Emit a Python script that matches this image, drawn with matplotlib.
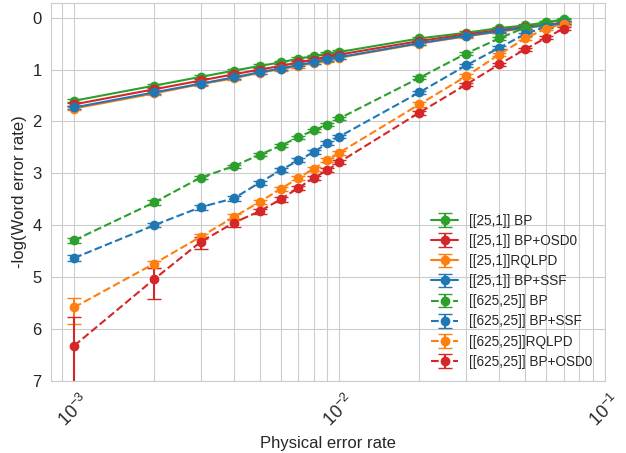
import matplotlib
matplotlib.use("Agg")
import matplotlib.pyplot as plt
import seaborn as sns
import numpy as np

sns.set_style("whitegrid")
plt.rcParams['font.family'] = ['Liberation Sans', 'DejaVu Sans']

p = [0.001, 0.002, 0.003, 0.004, 0.005, 0.006, 0.007, 0.008, 0.009, 0.01,
     0.02, 0.03, 0.04, 0.05, 0.06, 0.07]

bp25 = [1.60, 1.31, 1.14, 1.02, 0.93, 0.86, 0.79, 0.74, 0.69, 0.66, 0.40, 0.29, 0.20, 0.15, 0.09, 0.03]
osd25 = [1.67, 1.38, 1.21, 1.09, 1.00, 0.93, 0.86, 0.81, 0.75, 0.71, 0.45, 0.32, 0.24, 0.18, 0.13, 0.10]
rq25 = [1.75, 1.46, 1.28, 1.17, 1.06, 0.99, 0.93, 0.87, 0.82, 0.77, 0.50, 0.36, 0.27, 0.20, 0.15, 0.12]
ssf25 = [1.73, 1.44, 1.27, 1.15, 1.05, 0.98, 0.91, 0.86, 0.80, 0.76, 0.49, 0.35, 0.26, 0.19, 0.14, 0.11]

bp625 = [4.29, 3.56, 3.08, 2.86, 2.64, 2.47, 2.30, 2.17, 2.06, 1.94, 1.16, 0.69, 0.40, 0.19, 0.10, 0.05]
ssf625 = [4.63, 4.00, 3.65, 3.48, 3.18, 2.94, 2.75, 2.59, 2.42, 2.29, 1.44, 0.92, 0.58, 0.32, 0.17, 0.10]
rq625 = [5.58, 4.74, 4.22, 3.84, 3.55, 3.30, 3.09, 2.91, 2.75, 2.60, 1.67, 1.13, 0.71, 0.40, 0.21, 0.12]
osd625 = [6.32, 5.04, 4.32, 3.95, 3.73, 3.50, 3.28, 3.09, 2.94, 2.78, 1.83, 1.29, 0.90, 0.61, 0.39, 0.21]

err_small = [0.03] * 16
bp625_err_lo = [0.05, 0.04, 0.03, 0.03, 0.03, 0.03, 0.03, 0.03, 0.03, 0.03, 0.03, 0.03, 0.03, 0.03, 0.03, 0.03]
bp625_err_hi = [0.05, 0.04, 0.03, 0.03, 0.03, 0.03, 0.03, 0.03, 0.03, 0.03, 0.03, 0.03, 0.03, 0.03, 0.03, 0.03]
ssf625_err_lo = [0.05, 0.04, 0.05, 0.05, 0.04, 0.04, 0.04, 0.04, 0.04, 0.03, 0.03, 0.03, 0.03, 0.03, 0.03, 0.03]
ssf625_err_hi = [0.05, 0.04, 0.05, 0.05, 0.04, 0.04, 0.04, 0.04, 0.04, 0.03, 0.03, 0.03, 0.03, 0.03, 0.03, 0.03]
rq625_err_lo = [0.18, 0.06, 0.05, 0.05, 0.04, 0.04, 0.04, 0.04, 0.04, 0.04, 0.05, 0.04, 0.03, 0.03, 0.03, 0.03]
rq625_err_hi = [0.33, 0.08, 0.05, 0.05, 0.04, 0.04, 0.04, 0.04, 0.04, 0.04, 0.05, 0.04, 0.03, 0.03, 0.03, 0.03]
osd625_err_lo = [0.56, 0.21, 0.10, 0.07, 0.05, 0.05, 0.04, 0.04, 0.04, 0.04, 0.04, 0.03, 0.03, 0.03, 0.03, 0.03]
osd625_err_hi = [1.00, 0.39, 0.13, 0.08, 0.05, 0.05, 0.04, 0.04, 0.04, 0.04, 0.04, 0.03, 0.03, 0.03, 0.03, 0.03]

labels = ["[[25,1]] BP", "[[25,1]] BP+OSD0", "[[25,1]]RQLPD", "[[25,1]] BP+SSF",
          "[[625,25]] BP", "[[625,25]] BP+SSF", "[[625,25]]RQLPD", "[[625,25]] BP+OSD0"]

fig = plt.figure(figsize=(6.26, 4.53), dpi=100)
ax = fig.add_axes([0.082, 0.159, 0.884, 0.834])

kw = dict(marker='o', markersize=6, capsize=5, linewidth=1.5, elinewidth=1.5)
series = [
    (bp25, err_small, err_small, 'C2', '-'),
    (osd25, err_small, err_small, 'C3', '-'),
    (rq25, err_small, err_small, 'C1', '-'),
    (ssf25, err_small, err_small, 'C0', '-'),
    (bp625, bp625_err_lo, bp625_err_hi, 'C2', '--'),
    (ssf625, ssf625_err_lo, ssf625_err_hi, 'C0', '--'),
    (rq625, rq625_err_lo, rq625_err_hi, 'C1', '--'),
    (osd625, osd625_err_lo, osd625_err_hi, 'C3', '--'),
]
for (y, lo, hi, c, ls), lab in zip(series, labels):
    ax.errorbar(p, y, yerr=[lo, hi], color=c, linestyle=ls, label=lab, **kw)

ax.set_xscale('log')
ax.set_xlim(8.2e-4, 0.1)
ax.set_ylim(7, -0.28)
ax.set_yticks(range(0, 8))
ax.grid(which='major', color='.8')
ax.grid(which='minor', axis='x', color='.8')
for s in ax.spines.values():
    s.set_color('.8')
ax.tick_params(axis='y', labelsize=12)
ax.tick_params(axis='x', labelsize=13)
plt.setp(ax.get_xticklabels(), rotation=45)
ax.set_xlabel('Physical error rate', fontsize=12)
ax.set_ylabel('-log(Word error rate)', fontsize=12)
ax.legend(loc='lower right', fontsize=9.8, frameon=False, labelspacing=0.45,
          borderaxespad=0.5)

fig.savefig('out.png', dpi=100)
